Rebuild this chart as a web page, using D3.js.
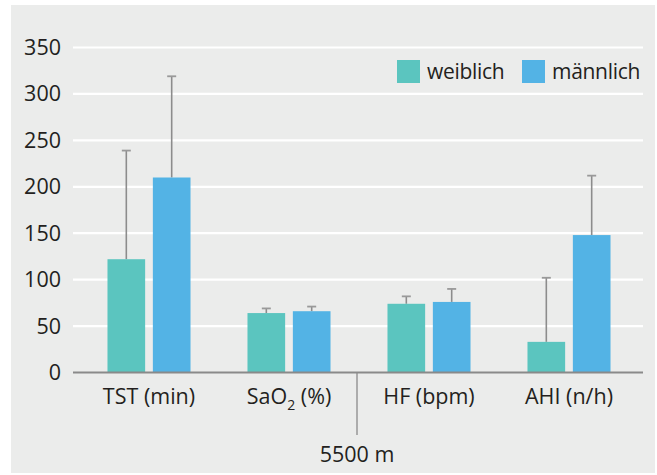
<!DOCTYPE html>
<html>
<head>
<meta charset="utf-8">
<script src="https://cdn.jsdelivr.net/npm/d3@7"></script>
<style>
  html, body { margin: 0; padding: 0; background: #ffffff; }
  svg { display: block; }
  text { font-family: "Open Sans", sans-serif; fill: #231f20; }
</style>
</head>
<body>
<script>
// ---- data ----
const categories = ["TST (min)", "SaO2 (%)", "HF (bpm)", "AHI (n/h)"];
const seriesNames = ["weiblich", "männlich"];
const weiblich = [122, 64, 74, 33];
const weiblichSD = [117, 5, 8, 69];
const maennlich = [210, 66, 76, 148];
const maennlichSD = [109, 5, 14, 64];
const yTicks = [0, 50, 100, 150, 200, 250, 300, 350];
const groupLabel = "5500 m";

const colors = ["#5bc5bf", "#53b3e5"];
const W = 657, H = 475;

const svg = d3.select("body").append("svg").attr("width", W).attr("height", H);

// panel background
svg.append("rect").attr("x", 11).attr("y", 5).attr("width", 644).attr("height", 468).attr("fill", "#ebeceb");

const y = d3.scaleLinear().domain([0, 350]).range([372.5, 47.5]);
const x0 = d3.scaleBand().domain(categories).range([79, 639]).paddingInner(0.407).paddingOuter(0.2035);
const x1 = d3.scaleBand().domain(seriesNames).range([0, x0.bandwidth()]).paddingInner(0.17).paddingOuter(0);

// gridlines
svg.append("g").selectAll("line").data(yTicks.filter(d => d > 0)).join("line")
  .attr("x1", 73).attr("x2", 643)
  .attr("y1", d => y(d)).attr("y2", d => y(d))
  .attr("stroke", "#ffffff").attr("stroke-width", 2.2);

// y tick labels
svg.append("g").selectAll("text").data(yTicks).join("text")
  .attr("x", 61).attr("y", d => y(d) + 7.5)
  .attr("text-anchor", "end").attr("font-size", 21.5)
  .text(d => d);

const rows = categories.map((c, i) => ({
  cat: c,
  vals: [
    { s: seriesNames[0], v: weiblich[i], sd: weiblichSD[i] },
    { s: seriesNames[1], v: maennlich[i], sd: maennlichSD[i] }
  ]
}));

const groups = svg.append("g").selectAll("g").data(rows).join("g")
  .attr("transform", d => `translate(${x0(d.cat)},0)`);

// error bars
groups.selectAll("line.err").data(d => d.vals).join("line").attr("class", "err")
  .attr("x1", d => x1(d.s) + x1.bandwidth() / 2).attr("x2", d => x1(d.s) + x1.bandwidth() / 2)
  .attr("y1", d => y(d.v)).attr("y2", d => y(d.v + d.sd))
  .attr("stroke", "#8c8c8c").attr("stroke-width", 1.6);
groups.selectAll("line.cap").data(d => d.vals).join("line").attr("class", "cap")
  .attr("x1", d => x1(d.s) + x1.bandwidth() / 2 - 4.5).attr("x2", d => x1(d.s) + x1.bandwidth() / 2 + 4.5)
  .attr("y1", d => y(d.v + d.sd)).attr("y2", d => y(d.v + d.sd))
  .attr("stroke", "#999999").attr("stroke-width", 1.8);

// bars
groups.selectAll("rect").data(d => d.vals).join("rect")
  .attr("x", d => x1(d.s)).attr("width", x1.bandwidth())
  .attr("y", d => y(d.v)).attr("height", d => y(0) - y(d.v))
  .attr("fill", (d, i) => colors[i]);

// x axis line
svg.append("line").attr("x1", 73).attr("x2", 643).attr("y1", y(0)).attr("y2", y(0))
  .attr("stroke", "#8a8a8a").attr("stroke-width", 2);

// divider
svg.append("line").attr("x1", 357).attr("x2", 357).attr("y1", y(0)).attr("y2", 435)
  .attr("stroke", "#8a8a8a").attr("stroke-width", 1.3);

// category labels
const catLabels = svg.append("g").selectAll("text").data(categories).join("text")
  .attr("x", d => x0(d) + x0.bandwidth() / 2).attr("y", 404)
  .attr("text-anchor", "middle").attr("font-size", 21.5);
catLabels.each(function(d) {
  const t = d3.select(this);
  const m = d.match(/^(SaO)2(.*)$/);
  if (m) {
    t.append("tspan").text(m[1]);
    t.append("tspan").attr("font-size", 14).attr("dy", 6).text("2");
    t.append("tspan").attr("dy", -6).text(m[2]);
  } else {
    t.text(d);
  }
});

svg.append("text").attr("x", 357).attr("y", 462).attr("text-anchor", "middle")
  .attr("font-size", 21.5).text(groupLabel);

// legend
const legendX = [397, 522];
const leg = svg.append("g").selectAll("g").data(seriesNames).join("g")
  .attr("transform", (d, i) => `translate(${legendX[i]},60)`);
leg.append("rect").attr("width", 23).attr("height", 23).attr("fill", (d, i) => colors[i]);
leg.append("text").attr("x", 30).attr("y", 18.5).attr("font-size", 21).attr("letter-spacing", -0.3).text(d => d);
</script>
</body>
</html>
